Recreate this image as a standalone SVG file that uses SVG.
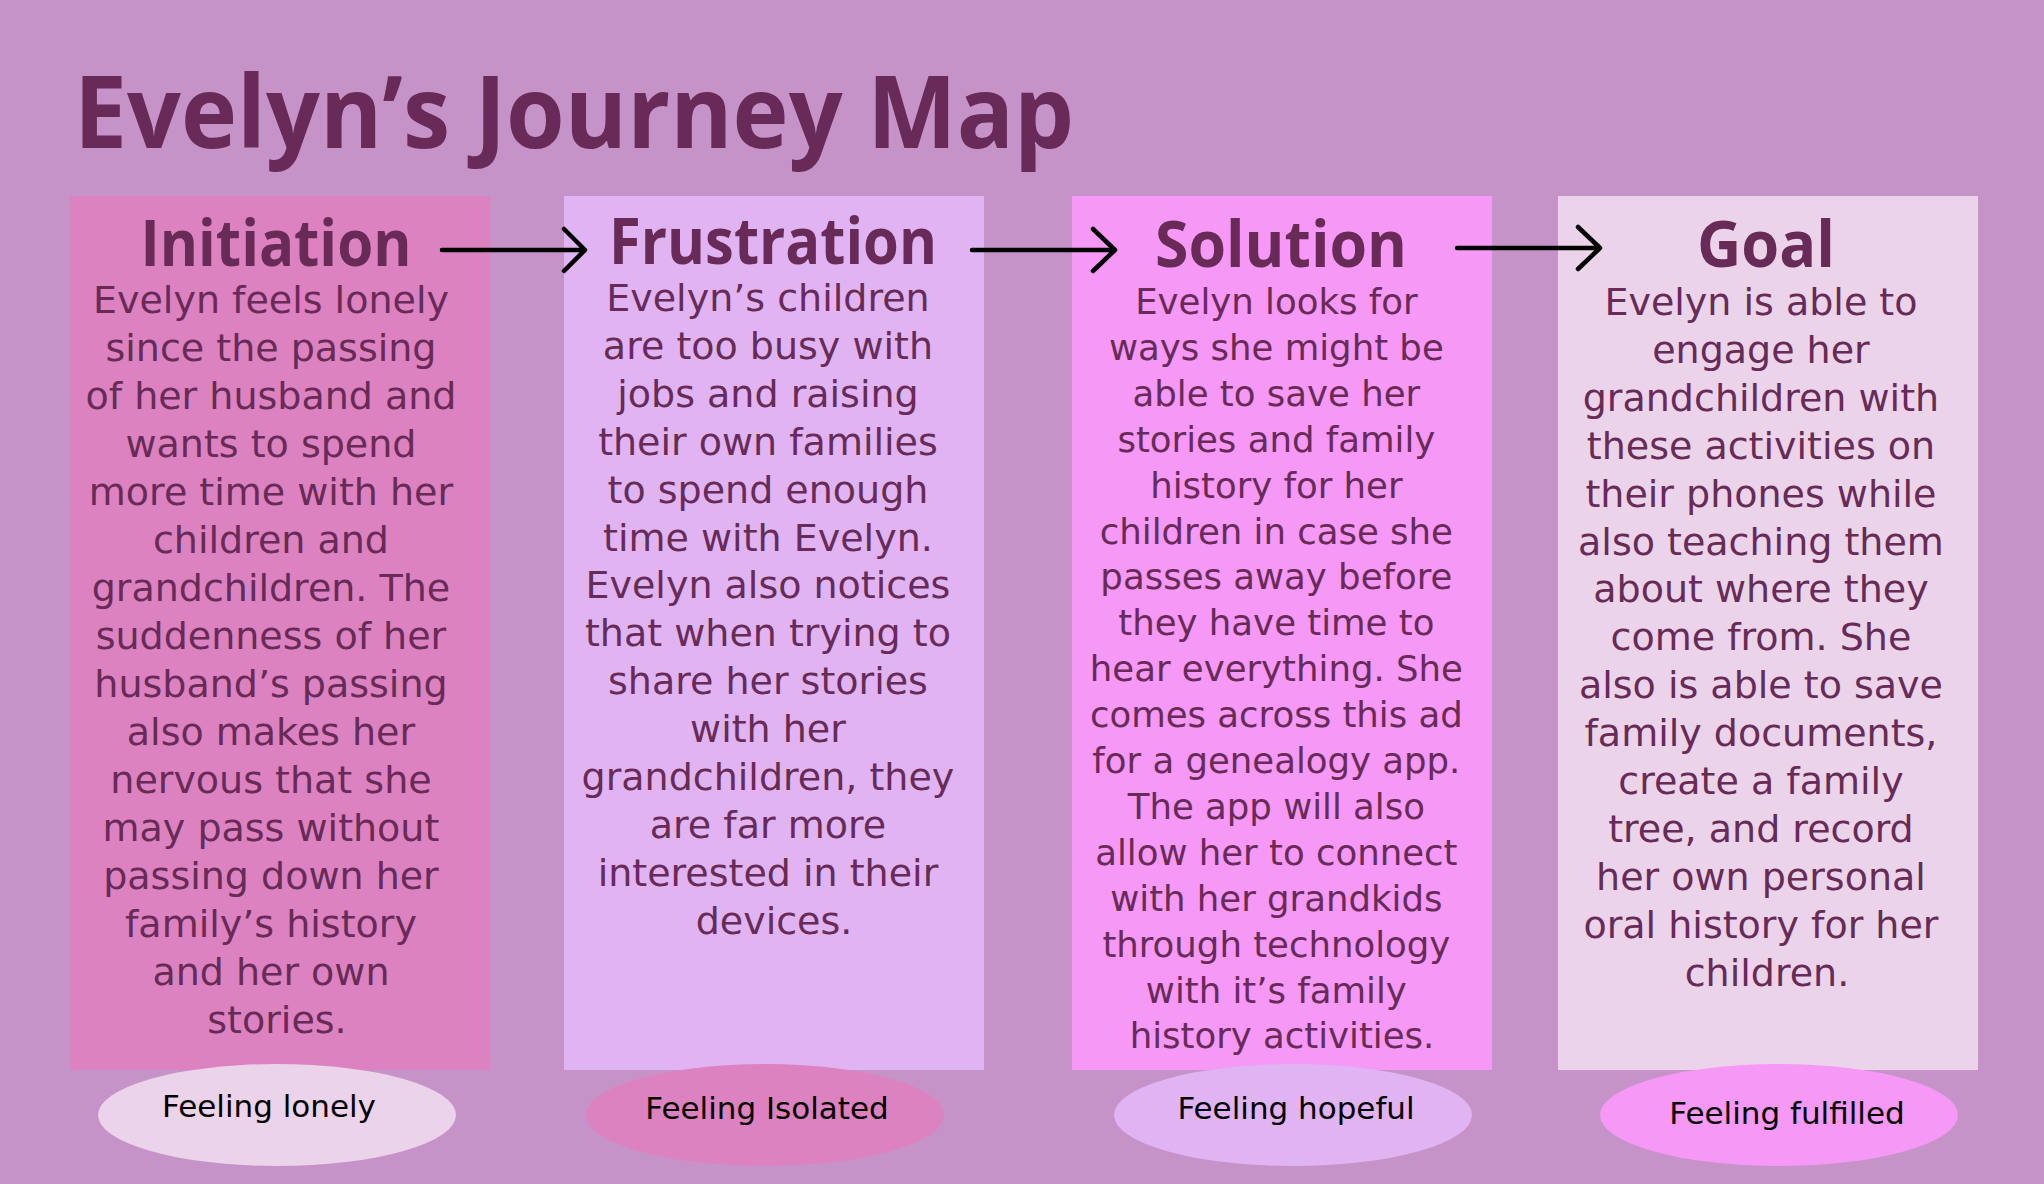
<svg xmlns="http://www.w3.org/2000/svg" width="2044" height="1184" viewBox="0 0 2044 1184">
<defs>
<style>
.title{font-family:"Open Sans","DejaVu Sans",sans-serif;font-weight:700;font-size:100px;fill:#682a56}
.head{font-family:"Open Sans","DejaVu Sans",sans-serif;font-weight:700;font-size:65px;fill:#682a56;text-anchor:middle}
.body{font-family:"DejaVu Sans","Verdana",sans-serif;font-size:38px;fill:#682a56;text-anchor:middle}
.small{font-size:35.5px}
.feel{font-family:"DejaVu Sans","Verdana",sans-serif;font-size:31px;fill:#000;text-anchor:middle}
.arrow{fill:none;stroke:#000;stroke-width:4.5;stroke-linecap:round;stroke-linejoin:round}
</style>
</defs>
<rect x="0" y="0" width="2044" height="1184" fill="#c693c9"/>
<text class="title" x="74" y="148" textLength="1000" lengthAdjust="spacingAndGlyphs">Evelyn’s Journey Map</text>

<g id="initiation">
<rect x="70" y="196" width="420" height="874" fill="#dc82c0"/>
<text class="head" x="276" y="266" textLength="271" lengthAdjust="spacingAndGlyphs">Initiation</text>
<text class="body" x="277" y="313">
<tspan x="277" dy="0">Evelyn feels lonely</tspan>
<tspan x="277" dy="48">since the passing</tspan>
<tspan x="277" dy="48">of her husband and</tspan>
<tspan x="277" dy="48">wants to spend</tspan>
<tspan x="277" dy="48">more time with her</tspan>
<tspan x="277" dy="48">children and</tspan>
<tspan x="277" dy="48">grandchildren. The</tspan>
<tspan x="277" dy="48">suddenness of her</tspan>
<tspan x="277" dy="48">husband’s passing</tspan>
<tspan x="277" dy="48">also makes her</tspan>
<tspan x="277" dy="48">nervous that she</tspan>
<tspan x="277" dy="48">may pass without</tspan>
<tspan x="277" dy="48">passing down her</tspan>
<tspan x="277" dy="48">family’s history</tspan>
<tspan x="277" dy="48">and her own</tspan>
<tspan x="277" dy="48">stories.</tspan>
</text>
</g>

<g id="frustration">
<rect x="564" y="196" width="420" height="874" fill="#e0b4f2"/>
<text class="head" x="773" y="264" textLength="328" lengthAdjust="spacingAndGlyphs">Frustration</text>
<text class="body" x="774" y="311">
<tspan x="774" dy="0">Evelyn’s children</tspan>
<tspan x="774" dy="47.9">are too busy with</tspan>
<tspan x="774" dy="47.9">jobs and raising</tspan>
<tspan x="774" dy="47.9">their own families</tspan>
<tspan x="774" dy="47.9">to spend enough</tspan>
<tspan x="774" dy="47.9">time with Evelyn.</tspan>
<tspan x="774" dy="47.9">Evelyn also notices</tspan>
<tspan x="774" dy="47.9">that when trying to</tspan>
<tspan x="774" dy="47.9">share her stories</tspan>
<tspan x="774" dy="47.9">with her</tspan>
<tspan x="774" dy="47.9">grandchildren, they</tspan>
<tspan x="774" dy="47.9">are far more</tspan>
<tspan x="774" dy="47.9">interested in their</tspan>
<tspan x="774" dy="47.9">devices.</tspan>
</text>
</g>

<g id="solution">
<rect x="1072" y="196" width="420" height="874" fill="#f598f6"/>
<text class="head" x="1281" y="267" textLength="252" lengthAdjust="spacingAndGlyphs">Solution</text>
<text class="body small" x="1282" y="314">
<tspan x="1282" dy="0">Evelyn looks for</tspan>
<tspan x="1282" dy="45.9">ways she might be</tspan>
<tspan x="1282" dy="45.9">able to save her</tspan>
<tspan x="1282" dy="45.9">stories and family</tspan>
<tspan x="1282" dy="45.9">history for her</tspan>
<tspan x="1282" dy="45.9">children in case she</tspan>
<tspan x="1282" dy="45.9">passes away before</tspan>
<tspan x="1282" dy="45.9">they have time to</tspan>
<tspan x="1282" dy="45.9">hear everything. She</tspan>
<tspan x="1282" dy="45.9">comes across this ad</tspan>
<tspan x="1282" dy="45.9">for a genealogy app.</tspan>
<tspan x="1282" dy="45.9">The app will also</tspan>
<tspan x="1282" dy="45.9">allow her to connect</tspan>
<tspan x="1282" dy="45.9">with her grandkids</tspan>
<tspan x="1282" dy="45.9">through technology</tspan>
<tspan x="1282" dy="45.9">with it’s family</tspan>
<tspan x="1282" dy="45.9">history activities.</tspan>
</text>
</g>

<g id="goal">
<rect x="1558" y="196" width="420" height="874" fill="#ebd3ea"/>
<text class="head" x="1766" y="267" textLength="138" lengthAdjust="spacingAndGlyphs">Goal</text>
<text class="body" x="1767" y="315">
<tspan x="1767" dy="0">Evelyn is able to</tspan>
<tspan x="1767" dy="47.9">engage her</tspan>
<tspan x="1767" dy="47.9">grandchildren with</tspan>
<tspan x="1767" dy="47.9">these activities on</tspan>
<tspan x="1767" dy="47.9">their phones while</tspan>
<tspan x="1767" dy="47.9">also teaching them</tspan>
<tspan x="1767" dy="47.9">about where they</tspan>
<tspan x="1767" dy="47.9">come from. She</tspan>
<tspan x="1767" dy="47.9">also is able to save</tspan>
<tspan x="1767" dy="47.9">family documents,</tspan>
<tspan x="1767" dy="47.9">create a family</tspan>
<tspan x="1767" dy="47.9">tree, and record</tspan>
<tspan x="1767" dy="47.9">her own personal</tspan>
<tspan x="1767" dy="47.9">oral history for her</tspan>
<tspan x="1767" dy="47.9">children.</tspan>
</text>
</g>

<g id="feeling-lonely">
<ellipse cx="277" cy="1115" rx="179" ry="51" fill="#ebd3ea"/>
<text class="feel" x="269" y="1117">Feeling lonely</text>
</g>
<g id="feeling-isolated">
<ellipse cx="765" cy="1115" rx="179" ry="51" fill="#dc82c0"/>
<text class="feel" x="767" y="1119">Feeling Isolated</text>
</g>
<g id="feeling-hopeful">
<ellipse cx="1293" cy="1115" rx="179" ry="51" fill="#e0b4f2"/>
<text class="feel" x="1296" y="1119">Feeling hopeful</text>
</g>
<g id="feeling-fulfilled">
<ellipse cx="1779" cy="1115" rx="179" ry="51" fill="#f598f6"/>
<text class="feel" x="1787" y="1124">Feeling fulfilled</text>
</g>

<g id="connectors">
<path class="arrow" d="M442 250 H585 M564 229 L585 250 L564 271"/>
<path class="arrow" d="M972 250 H1115 M1093 229 L1115 250 L1093 271"/>
<path class="arrow" d="M1457 248 H1600 M1578 227 L1600 248 L1578 269"/>
</g>
</svg>
